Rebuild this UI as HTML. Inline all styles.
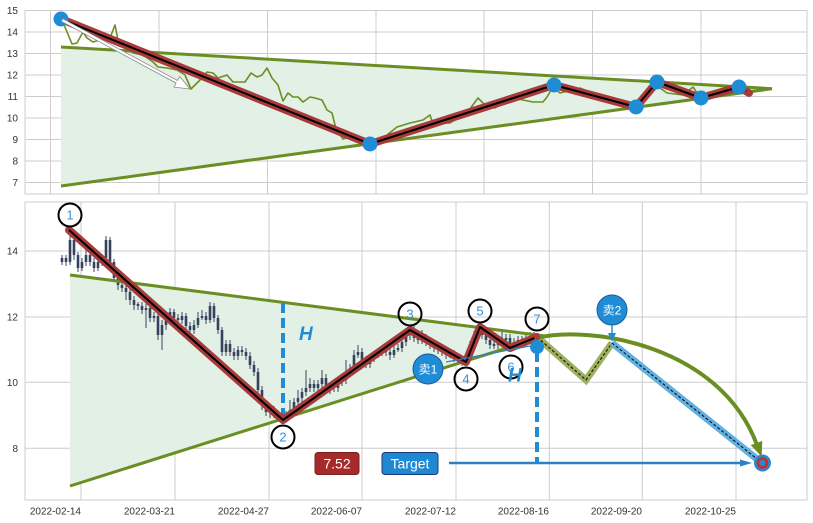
<!DOCTYPE html>
<html>
<head>
<meta charset="utf-8">
<style>
html,body{margin:0;padding:0;background:#fff;}
svg{display:block;font-family:"Liberation Sans","Noto Sans CJK SC",sans-serif;}
</style>
</head>
<body>
<svg width="813" height="523" viewBox="0 0 813 523" xmlns="http://www.w3.org/2000/svg">
<rect x="0" y="0" width="813" height="523" fill="#fff"/>

<!-- ================= TOP PANEL ================= -->
<rect x="25" y="10.5" width="782" height="183.5" fill="#fff" stroke="#cccccc" stroke-width="1"/>
<g stroke="#cccccc" stroke-width="1">
<line x1="25" y1="32" x2="807" y2="32"/>
<line x1="25" y1="53.5" x2="807" y2="53.5"/>
<line x1="25" y1="75" x2="807" y2="75"/>
<line x1="25" y1="96.5" x2="807" y2="96.5"/>
<line x1="25" y1="118" x2="807" y2="118"/>
<line x1="25" y1="139.5" x2="807" y2="139.5"/>
<line x1="25" y1="161" x2="807" y2="161"/>
<line x1="25" y1="182.5" x2="807" y2="182.5"/>
<line x1="50.5" y1="10.5" x2="50.5" y2="194"/>
<line x1="159" y1="10.5" x2="159" y2="194"/>
<line x1="267.5" y1="10.5" x2="267.5" y2="194"/>
<line x1="376" y1="10.5" x2="376" y2="194"/>
<line x1="484" y1="10.5" x2="484" y2="194"/>
<line x1="592.5" y1="10.5" x2="592.5" y2="194"/>
<line x1="701" y1="10.5" x2="701" y2="194"/>
</g>
<g font-size="10" fill="#333" text-anchor="end">
<text x="18" y="14">15</text>
<text x="18" y="35.5">14</text>
<text x="18" y="57">13</text>
<text x="18" y="78.5">12</text>
<text x="18" y="100">11</text>
<text x="18" y="121.5">10</text>
<text x="18" y="143">9</text>
<text x="18" y="164.5">8</text>
<text x="18" y="186">7</text>
</g>
<polygon points="61,47 772,88.7 61,186" fill="#e2f0e6"/>
<polyline fill="none" stroke="#6b8e23" stroke-width="1.6" stroke-linejoin="round" points="61,20 65,27 72,44 77,43 83,32 87,38 93,42 100,40 110,38 115,25 118,40 127,50 133,53 143,55 153,62 158,67 167,68 177,70 185,75 191,89 200,80 207,72 213,73 218,78 227,75 233,82 240,82 245,82 251,73 257,77 262,75 267,68 272,78 278,85 283,101 288,93 293,97 298,97 303,102 310,97 315,98 322,100 327,110 332,113 335,125 338,132 343,139 350,137 357,140 363,142 370,144 377,142 387,135 397,127 410,123 423,120 430,115 433,124 450,123 460,117 467,113 478,98 485,105 495,108 503,103 513,98 523,100 533,102 543,102 547,97 553,87 560,93 580,88 600,97 617,102 633,107 647,90 653,83 667,93 683,95 693,87 700,97 713,95 727,90 740,86 750,92"/>
<line x1="61" y1="47" x2="772" y2="88.7" stroke="#6b8e23" stroke-width="3"/>
<line x1="61" y1="186" x2="772" y2="88.7" stroke="#6b8e23" stroke-width="3"/>
<polyline fill="none" stroke="#a83a3a" stroke-width="8" stroke-linecap="round" stroke-linejoin="round" points="61,19 370,144 554,85 636,107 657,82 701,98 739,87 749,93"/>
<polyline fill="none" stroke="#000" stroke-width="2" stroke-linejoin="round" points="61,19 370,144 554,85 636,107 657,82 701,98 739,87 746,91"/>
<g fill="#1f8dd6">
<circle cx="61" cy="19" r="7.5"/>
<circle cx="370" cy="144" r="7.5"/>
<circle cx="554" cy="85" r="7.5"/>
<circle cx="636" cy="107" r="7.5"/>
<circle cx="657" cy="82" r="7.5"/>
<circle cx="701" cy="98" r="7.5"/>
<circle cx="739" cy="87" r="7.5"/>
</g>
<polygon points="61.3,21.3 176.1,83.1 174,87.1 190,89 179.7,76.5 177.5,80.5 62.7,18.7" fill="#fff" stroke="#8a8a8a" stroke-width="0.8"/>

<!-- ================= BOTTOM PANEL ================= -->
<rect x="25" y="202" width="782" height="298" fill="#fff" stroke="#cccccc" stroke-width="1"/>
<g stroke="#cccccc" stroke-width="1">
<line x1="25" y1="251" x2="807" y2="251"/>
<line x1="25" y1="317" x2="807" y2="317"/>
<line x1="25" y1="382.3" x2="807" y2="382.3"/>
<line x1="25" y1="448.3" x2="807" y2="448.3"/>
<line x1="81" y1="202" x2="81" y2="500"/>
<line x1="175" y1="202" x2="175" y2="500"/>
<line x1="269" y1="202" x2="269" y2="500"/>
<line x1="362" y1="202" x2="362" y2="500"/>
<line x1="456" y1="202" x2="456" y2="500"/>
<line x1="549.3" y1="202" x2="549.3" y2="500"/>
<line x1="642.3" y1="202" x2="642.3" y2="500"/>
<line x1="736" y1="202" x2="736" y2="500"/>
</g>
<g font-size="10" fill="#333" text-anchor="end">
<text x="18" y="254.5">14</text>
<text x="18" y="320.5">12</text>
<text x="18" y="385.8">10</text>
<text x="18" y="451.8">8</text>
<text x="81" y="514.5">2022-02-14</text>
<text x="175" y="514.5">2022-03-21</text>
<text x="269" y="514.5">2022-04-27</text>
<text x="362" y="514.5">2022-06-07</text>
<text x="456" y="514.5">2022-07-12</text>
<text x="549" y="514.5">2022-08-16</text>
<text x="642" y="514.5">2022-09-20</text>
<text x="736" y="514.5">2022-10-25</text>
</g>

<polygon points="70,275 545,336 70,486" fill="#e2f0e6"/>

<!-- candles -->
<path fill="none" stroke="#3a4660" stroke-width="1" d="M62 255V265 M66 255V266 M70 230V265 M74 236V260 M78 252V272 M82 258V271 M86 250V266 M90 252V266 M94 258V272 M98 258V271 M102 254V266 M106 236V262 M110 237V266 M114 259V282 M118 275V290 M122 281V292 M126 284V300 M130 289V305 M134 296V310 M138 302V310 M142 302V314 M146 304V328 M150 305V322 M154 312V322 M158 312V340 M162 320V350 M166 312V330 M170 308V320 M174 309V322 M178 314V324 M182 312V324 M186 313V330 M190 322V334 M194 320V334 M198 312V328 M202 310V320 M206 312V324 M210 302V323 M214 303V322 M218 315V334 M222 327V356 M226 340V356 M230 340V356 M234 348V360 M238 346V360 M242 346V356 M246 348V360 M250 352V369 M254 361V376 M258 368V394 M262 386V410 M266 400V416 M270 406V418 M274 406V418 M278 410V420 M282 412V422 M286 411V422 M290 400V418 M294 398V414 M298 390V406 M302 388V402 M306 370V396 M310 378V392 M314 380V392 M318 380V392 M322 370V388 M326 374V394 M330 382V394 M334 382V392 M338 378V392 M342 376V386 M346 360V384 M350 364V376 M354 350V372 M358 345V358 M362 348V364 M366 356V368 M370 354V368 M374 351V362 M378 348V358 M382 346V356 M386 346V356 M390 348V360 M394 346V358 M398 344V352 M402 338V352 M406 330V346 M410 326V340 M414 326V342 M418 334V344 M422 330V344 M426 334V346 M430 338V349 M434 341V352 M438 344V354 M442 346V356 M446 348V359 M450 350V358 M454 350V362 M458 354V364 M462 356V366 M466 354V366 M470 341V362 M474 331V349 M478 324V339 M482 324V339 M486 331V344 M490 336V349 M494 341V349 M498 338V349 M502 330V346 M506 334V342 M510 334V349 M514 338V349 M518 336V344 M522 336V346 M526 334V346 M530 332V342 M534 332V342"/>
<path fill="none" stroke="#34425e" stroke-width="2.6" d="M62 262V258 M66 258V262 M70 262V240 M74 240V255 M78 255V268 M82 268V262 M86 262V255 M90 255V262 M94 262V268 M98 268V262 M102 262V258 M106 258V240 M110 240V262 M114 262V278 M118 278V285 M122 285V288 M126 288V292 M130 292V300 M134 300V305 M138 304V306 M142 306V310 M146 310V308 M150 308V318 M154 318V316 M158 316V335 M162 335V325 M166 325V316 M170 316V312 M174 312V318 M178 318V320 M182 320V316 M186 316V326 M190 326V330 M194 330V325 M198 325V318 M202 318V316 M206 316V320 M210 320V306 M214 306V318 M218 318V330 M222 330V352 M226 352V344 M230 344V352 M234 352V356 M238 356V350 M242 350V352 M246 352V356 M250 356V365 M254 365V372 M258 372V390 M262 390V405 M266 405V412 M270 412V410 M274 410V414 M278 414V416 M282 416V418 M286 418V415 M290 415V410 M294 410V402 M298 402V398 M302 398V392 M306 392V388 M310 388V384 M314 384V388 M318 388V384 M322 384V378 M326 378V390 M330 390V386 M334 386V388 M338 388V382 M342 382V380 M346 380V372 M350 372V368 M354 368V355 M358 355V352 M362 352V360 M366 360V364 M370 364V358 M374 358V355 M378 355V352 M382 352V350 M386 350V352 M390 352V355 M394 355V350 M398 350V348 M402 348V342 M406 342V335 M410 335V330 M414 330V338 M418 338V340 M422 340V338 M426 338V342 M430 342V345 M434 345V348 M438 348V350 M442 350V352 M446 352V355 M450 355V353 M454 354V358 M458 358V360 M462 360V362 M466 362V358 M470 358V345 M474 345V335 M478 335V328 M482 328V335 M486 335V340 M490 340V345 M494 344V346 M498 345V342 M502 342V340 M506 340V338 M510 338V345 M514 345V342 M518 342V340 M522 340V342 M526 342V338 M530 338V336 M534 336V338"/>

<!-- trend lines -->
<line x1="70" y1="275" x2="545" y2="336" stroke="#6b8e23" stroke-width="3"/>
<line x1="70" y1="486" x2="545" y2="336" stroke="#6b8e23" stroke-width="3"/>

<!-- H dashed vertical -->
<line x1="283" y1="303" x2="283" y2="421" stroke="#1f8dd6" stroke-width="4" stroke-dasharray="10,5"/>

<!-- zigzag -->
<polyline fill="none" stroke="#a83a3a" stroke-width="8" stroke-linecap="round" stroke-linejoin="round" points="69,230 283,420 410,330 466,362 480,327 510,348 537,337"/>
<polyline fill="none" stroke="#000" stroke-width="2" stroke-linejoin="round" points="69,230 283,420 410,330 466,362 480,327 510,348 537,337"/>

<!-- projected path -->
<polyline fill="none" stroke="#9db05e" stroke-width="7" stroke-linejoin="miter" points="537,337 586,380 612,343"/>
<polyline fill="none" stroke="#111" stroke-width="1.1" stroke-dasharray="3,2" points="537,337 586,380 612,343"/>
<line x1="612" y1="343" x2="762" y2="463" stroke="#62b0e2" stroke-width="7"/>
<line x1="612" y1="343" x2="762" y2="463" stroke="#111" stroke-width="1.1" stroke-dasharray="3,2"/>

<!-- arc arrow -->
<path d="M537,338 C590,325 720,345 757,445" fill="none" stroke="#6b8e23" stroke-width="4"/>
<polygon points="761,455 761.5,442 752.1,445.4" fill="#6b8e23" stroke="#6b8e23" stroke-width="1.5"/>

<!-- target line -->
<line x1="449" y1="463" x2="742" y2="463" stroke="#2e80c2" stroke-width="2.5"/>
<polygon points="740,459.5 752,463 740,466.5" fill="#2e80c2"/>
<circle cx="762.5" cy="463" r="8.5" fill="#2e86c9"/>
<circle cx="762.5" cy="463" r="4.5" fill="#2e86c9" stroke="#c03030" stroke-width="2.5"/>

<!-- dashed vertical at 7 -->
<line x1="537" y1="352" x2="537" y2="463" stroke="#1f8dd6" stroke-width="4" stroke-dasharray="10,5"/>
<circle cx="537" cy="347" r="7" fill="#1f8dd6"/>
<circle cx="537" cy="337" r="3" fill="#b03838"/>

<!-- 卖1 arrow -->
<line x1="446" y1="362" x2="530" y2="346" stroke="#2e80c2" stroke-width="1.3"/>

<!-- numbered circles -->
<g fill="none" stroke="#000" stroke-width="2">
<circle cx="70" cy="215" r="11.5"/>
<circle cx="283" cy="437" r="11.5"/>
<circle cx="410" cy="314" r="11.5"/>
<circle cx="466" cy="379" r="11.5"/>
<circle cx="480" cy="311" r="11.5"/>
<circle cx="511" cy="367" r="11.5"/>
<circle cx="537" cy="319" r="11.5"/>
</g>
<g font-size="13" fill="#3a8fd0" text-anchor="middle">
<text x="70" y="219.5">1</text>
<text x="283" y="441.5">2</text>
<text x="410" y="318.5">3</text>
<text x="466" y="383.5">4</text>
<text x="480" y="315.5">5</text>
<text x="511" y="371.5">6</text>
<text x="537" y="323.5">7</text>
</g>

<!-- H labels -->
<g font-size="19" font-weight="bold" font-style="italic" fill="#1f8dd6">
<text x="299" y="340">H</text>
<text x="508" y="381.5">H</text>
</g>

<!-- 卖1 / 卖2 -->
<circle cx="428" cy="369" r="15" fill="#1f8dd6" stroke="#1a5a9c" stroke-width="1"/>
<text x="428" y="373.5" font-size="12" fill="#fff" text-anchor="middle">卖1</text>
<circle cx="612" cy="310" r="15" fill="#1f8dd6" stroke="#1a5a9c" stroke-width="1"/>
<text x="612" y="314.5" font-size="12" fill="#fff" text-anchor="middle">卖2</text>
<line x1="612" y1="325" x2="612" y2="335" stroke="#1f8dd6" stroke-width="1.5"/>
<polygon points="608,333 616,333 612,342" fill="#1f8dd6"/>

<!-- boxes -->
<rect x="315" y="452.5" width="44" height="22" rx="3" fill="#a52a2a" stroke="#7a1e22" stroke-width="1"/>
<text x="337" y="468.5" font-size="14" fill="#fff" text-anchor="middle">7.52</text>
<rect x="382" y="452.5" width="56" height="22" rx="3" fill="#1f88d2" stroke="#1c3a7a" stroke-width="1"/>
<text x="410" y="468.5" font-size="14" fill="#fff" text-anchor="middle">Target</text>
</svg>
</body>
</html>
